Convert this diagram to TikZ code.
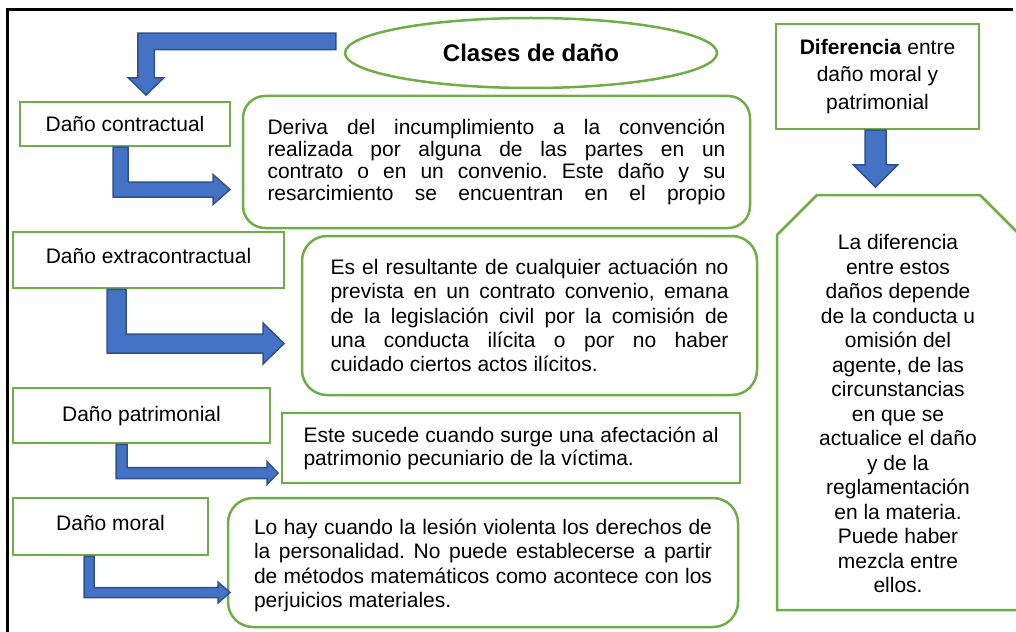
\documentclass[tikz,border=0pt]{standalone}
\usepackage{fontspec}
\setmainfont{Liberation Sans}
\usepackage{tikz}
\usetikzlibrary{shapes.geometric,calc}
\definecolor{ofgreen}{HTML}{70AD47}
\definecolor{ofblue}{HTML}{4472C4}
\definecolor{ofblueline}{HTML}{2F528F}
\frenchspacing
% bent block arrows: start, tip, bar width, head width, head length
\newcommand\rightbend[5]{\draw[bluearrow] let \p1=(#1), \p2=(#2) in
   (\x1-#3/2,\y1) -- (\x1+#3/2,\y1) -- (\x1+#3/2,\y2+#3/2) -- (\x2-#5,\y2+#3/2)
   -- (\x2-#5,\y2+#4/2) -- (\x2,\y2) -- (\x2-#5,\y2-#4/2) -- (\x2-#5,\y2-#3/2)
   -- (\x1-#3/2,\y2-#3/2) -- cycle;}
\newcommand\downbend[5]{\draw[bluearrow] let \p1=(#1), \p2=(#2) in
   (\x1,\y1+#3/2) -- (\x2-#3/2,\y1+#3/2) -- (\x2-#3/2,\y2+#5) -- (\x2-#4/2,\y2+#5)
   -- (\x2,\y2) -- (\x2+#4/2,\y2+#5) -- (\x2+#3/2,\y2+#5) -- (\x2+#3/2,\y1-#3/2)
   -- (\x1,\y1-#3/2) -- cycle;}
\newcommand\straightdown[5]{\draw[bluearrow] let \p1=(#1), \p2=(#2) in
   (\x1-#3/2,\y1) -- (\x1+#3/2,\y1) -- (\x1+#3/2,\y2+#5) -- (\x1+#4/2,\y2+#5)
   -- (\x1,\y2) -- (\x1-#4/2,\y2+#5) -- (\x1-#3/2,\y2+#5) -- cycle;}

\begin{document}
\begin{tikzpicture}[x=1pt, y=-1pt,
   leftbox/.style={draw=ofgreen, line width=2.5pt, rectangle, inner sep=0pt, align=center, font=\fontsize{21}{24}\selectfont},
   descbox/.style={draw=ofgreen, line width=2.5pt, rounded corners=22pt, inner sep=0pt, align=justify},
   bluearrow/.style={fill=ofblue, draw=ofblueline, line width=1.5pt, line join=miter}]
\useasboundingbox (0,0) rectangle (1016,631);
\clip (0,0) rectangle (1016,631);
\draw[line width=3pt] (1013,10) -- (7,10) -- (7,640);

\node[draw=ofgreen, line width=2.5pt, ellipse, inner sep=0pt, minimum width=372pt, minimum height=70pt,
   font=\bfseries\fontsize{24}{28}\selectfont] (clases) at (531,53) {Clases de daño};

\node[leftbox, minimum width=210pt, minimum height=44pt] (cont) at (125,124) {Daño contractual};
\node[leftbox, minimum width=271pt, minimum height=56pt, text depth=9pt] (extra) at (148.5,260) {Daño extracontractual};
\node[leftbox, minimum width=257pt, minimum height=55pt, text depth=4pt] (patr) at (141.5,415.5) {Daño patrimonial};
\node[leftbox, minimum width=195pt, minimum height=57pt, text depth=8pt] (moral) at (110.5,526.5) {Daño moral};

\node[descbox, minimum width=507pt, minimum height=132pt, text width=458pt, font=\fontsize{21}{22}\selectfont]
   (contdesc) at (496.5,162) {\parfillskip=0pt Deriva del incumplimiento a la convención\linebreak
   realizada por alguna de las partes en un\linebreak contrato o en un convenio. Este daño y su\linebreak
   resarcimiento se encuentran en el propio\par};
\node[descbox, rounded corners=25pt, minimum width=455pt, minimum height=159pt, text width=398pt,
   font=\fontsize{21}{24.3}\selectfont] (extradesc) at (529.5,315.5) {Es el resultante de cualquier actuación no\linebreak
   prevista en un contrato convenio, emana\linebreak de la legislación civil por la comisión de\linebreak
   una conducta ilícita o por no haber\linebreak cuidado ciertos actos ilícitos.};
\node[draw=ofgreen, line width=2.5pt, inner sep=0pt, minimum width=458pt, minimum height=70pt, text width=415pt,
   align=justify, font=\fontsize{21}{23}\selectfont] (patrdesc) at (511,448) {Este sucede cuando surge una afectación al\linebreak
   patrimonio pecuniario de la víctima.};
\node[descbox, rounded corners=25pt, minimum width=510pt, minimum height=129pt] (moraldesc) at (483,562.5) {};
\begin{scope}
   \clip (moraldesc.north west) rectangle ([yshift=15pt]moraldesc.south east);
   \node[text width=458pt, align=justify, inner sep=0pt, anchor=north, font=\fontsize{21}{24.5}\selectfont]
      (moraltext) at ([yshift=-22pt]moraldesc.north) {Lo hay cuando la lesión violenta los derechos de\linebreak
      la personalidad. No puede establecerse a partir\linebreak de métodos matemáticos como acontece con los\linebreak
      perjuicios materiales.};
\end{scope}

\node[leftbox, minimum width=203pt, minimum height=105pt, font=\fontsize{21}{27.5}\selectfont]
   (dif) at (877.5,76.5) {\textbf{Diferencia} entre\\daño moral y\\patrimonial};
\draw[draw=ofgreen, line width=2.5pt] (777,610) -- (777,235) -- (817,195) -- (980,195) -- (1020,235) -- (1020,610) -- cycle;
\node[align=center, font=\fontsize{21}{24.5}\selectfont] (expl) at (898,413.5) {La diferencia\\entre estos\\daños depende\\
   de la conducta u\\omisión del\\agente, de las\\circunstancias\\en que se\\actualice el daño\\y de la\\
   reglamentación\\en la materia.\\Puede haber\\mezcla entre\\ellos.};

% arrows
\coordinate (toparr) at ([shift={(-8,-11.5)}]clases.west);
\coordinate (toptip) at (146,95);
\coordinate (conttip) at (230,189.5);
\coordinate (extratip) at (284,343.5);
\coordinate (patrtip) at (278,473);
\coordinate (moraltip) at (230,592.5);
\coordinate (diftip) at (876,187);
\downbend{toparr}{toptip}{16.5}{35}{17}
\rightbend{[xshift=-4.5pt]cont.south}{conttip}{15}{30}{17}
\rightbend{[xshift=-32pt]extra.south}{extratip}{19}{41}{21}
\rightbend{[xshift=-20pt]patr.south}{patrtip}{11}{23}{11}
\rightbend{[xshift=-21.5pt]moral.south}{moraltip}{10}{21}{12}
\straightdown{[xshift=-2pt]dif.south}{diftip}{21}{44}{22}
\end{tikzpicture}
\end{document}
